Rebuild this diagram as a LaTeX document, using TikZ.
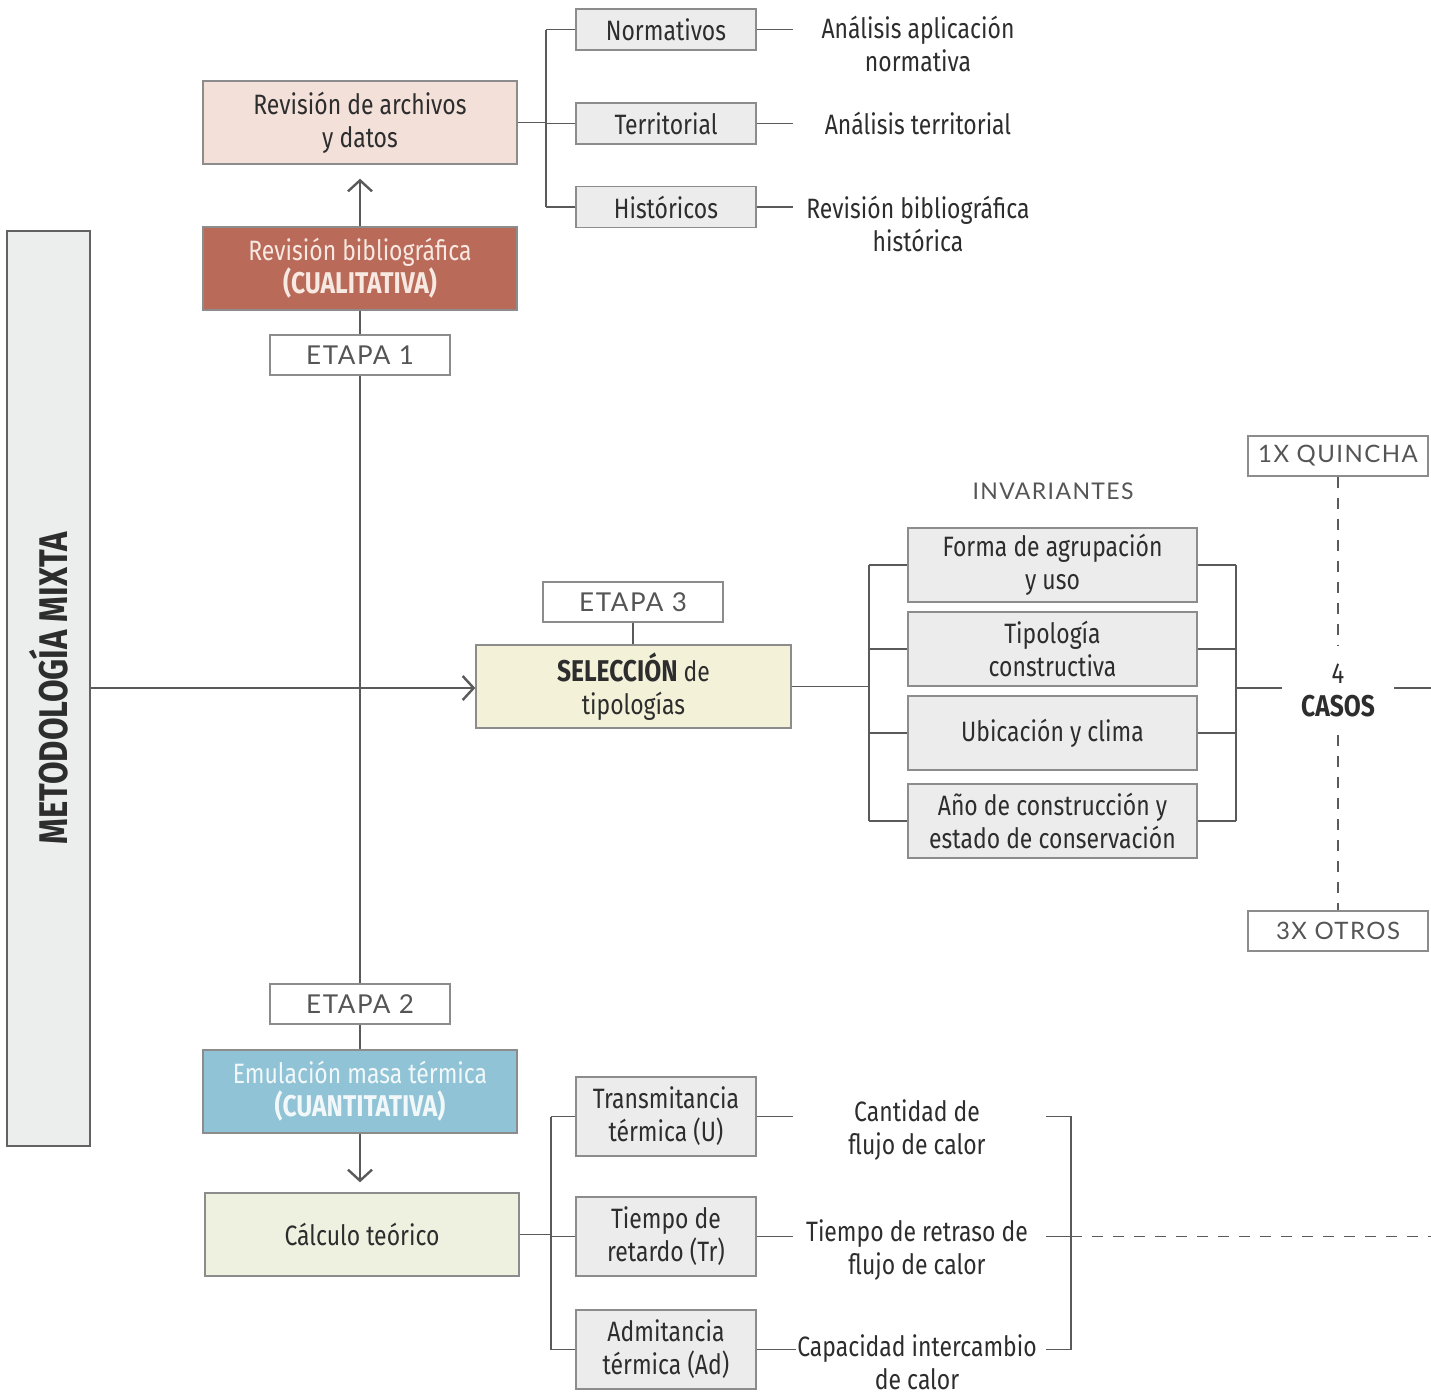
\documentclass[tikz,border=0pt]{standalone}
\usepackage{fontspec}
\setmainfont{Fira Sans}[FakeStretch=0.82]
\newfontfamily\digfont{Fira Sans}[FakeStretch=0.82, Numbers={Lining,Proportional}]
\newfontfamily\etfont{Lato}[LetterSpace=6]
\usetikzlibrary{arrows.meta,calc}
\definecolor{lc}{HTML}{5A5A5A}
\definecolor{bc}{HTML}{8C8C8C}
\definecolor{gbox}{HTML}{ECECEC}
\definecolor{bigfill}{HTML}{ECEEED}
\definecolor{bigdraw}{HTML}{626262}
\definecolor{tc}{HTML}{2D2D2D}
\definecolor{cualfill}{HTML}{B96A59}
\definecolor{cualtext}{HTML}{F7E9E1}
\definecolor{archfill}{HTML}{F2E0D9}
\definecolor{emulfill}{HTML}{8FC3D5}
\definecolor{emultext}{HTML}{F2F8FA}
\definecolor{selfill}{HTML}{F3F2D9}
\definecolor{calcfill}{HTML}{EEF1E0}
\definecolor{etc}{HTML}{555555}
\begin{document}
\begin{tikzpicture}[x=1pt,y=-1pt,
  ln/.style={draw=lc, line width=1.3pt},
  dsh/.style={draw=lc, line width=1.1pt, dash pattern=on 11pt off 10pt},
  arr/.style={ln, -{Straight Barb[length=11pt,width=24pt,line width=2.4pt]}},
  bx/.style={draw=bc, line width=1.4pt, fill=gbox, align=center, inner sep=0pt,
    text=tc, font=\fontsize{28}{33}\selectfont},
  wide/.style={minimum width=314pt, minimum height=83pt},
  small/.style={minimum width=180pt, minimum height=41pt},
  mid/.style={minimum width=180pt, minimum height=79pt},
  inv/.style={minimum width=289pt, minimum height=74pt},
  etapa/.style={draw=bc, line width=1.4pt, fill=white, minimum width=180pt,
    minimum height=40pt, inner sep=0pt, text=etc, font=\etfont\fontsize{26}{30}\selectfont},
  txt/.style={align=center, text=tc, inner sep=0pt, font=\fontsize{28}{33}\selectfont}
]
\useasboundingbox (0,0) rectangle (1431,1395);

% left big box
\node[draw=bigdraw, line width=2pt, fill=bigfill, minimum width=83pt, minimum height=915pt, inner sep=0pt] (meto) at (48.5,688.5) {};
\node[rotate=90, text=tc, font=\bfseries\fontsize{40}{44}\selectfont, inner sep=0pt] (metolbl) at (meto.center) {METODOLOGÍA MIXTA};

% stage 1
\node[bx, wide, fill=cualfill, text=cualtext] (cual) at (360,268.5) {Revisión bibliográfica\\\textbf{\fontsize{30}{33}\selectfont(CUALITATIVA)}};
\node[bx, wide, fill=archfill] (arch) at (360,122.5) {Revisión de archivos\\y datos};
\node[bx, small] (norm) at (666,29.5) {Normativos};
\node[bx, small] (terr) at (666,123.5) {Territorial};
\node[bx, small] (hist) at (666,207) {Históricos};
\node[etapa] (et1) at (360,355) {ETAPA 1};

\node[txt] (t1) at (918,44) {Análisis aplicación\\normativa};
\node[txt] (t2) at (918,123) {Análisis territorial};
\node[txt] (t3) at (918,224) {Revisión bibliográfica\\histórica};

\draw[arr] (cual.north) -- ($(arch.south)+(0,14)$);
\coordinate (ab) at (546,123.5);
\draw[ln] (arch.east) -- (arch.east -| ab);
\draw[ln] (ab |- norm.west) -- (ab |- hist.west);
\draw[ln] (ab |- norm.west) -- (norm.west);
\draw[ln] (ab |- terr.west) -- (terr.west);
\draw[ln] (ab |- hist.west) -- (hist.west);
\coordinate (e1) at (793,29.5);
\coordinate (e2) at (793,123.5);
\coordinate (e3) at (793,207);
\draw[ln] (norm.east) -- (e1);
\draw[ln] (terr.east) -- (e2);
\draw[ln] (hist.east) -- (e3);

% stage 3
\node[etapa] (et3) at (633,602) {ETAPA 3};
\node[bx, wide, minimum width=315pt, fill=selfill] (selec) at (633.5,686.5) {\textbf{\fontsize{30}{33}\selectfont SELECCIÓN} de\\tipologías};
\draw[ln] (et3.south) -- (et3.south |- selec.north);

\node[text=etc, inner sep=0pt, font=\etfont\fontsize{23}{28}\selectfont] (invt) at (1053,491) {INVARIANTES};
\node[bx, inv] (i1) at (1052.5,565) {Forma de agrupación\\y uso};
\node[bx, inv] (i2) at (1052.5,649) {Tipología\\constructiva};
\node[bx, inv] (i3) at (1052.5,733) {Ubicación y clima};
\node[bx, inv] (i4) at (1052.5,821) {Año de construcción y\\estado de conservación};

\coordinate (bl) at (869,688);
\draw[ln] (selec.east) -- (selec.east -| bl);
\draw[ln] (bl |- i1.west) -- (bl |- i4.west);
\foreach \n in {i1,i2,i3,i4} \draw[ln] (bl |- \n.west) -- (\n.west);

\node[txt, minimum width=112pt, minimum height=90pt] (casos) at (1338,690) {{\digfont\fontsize{29}{33}\selectfont 4}\\\textbf{\fontsize{30}{33}\selectfont CASOS}};
\coordinate (br) at (1236,688);
\foreach \n in {i1,i2,i3,i4} \draw[ln] (\n.east) -- (\n.east -| br);
\draw[ln] (br |- i1.east) -- (br |- i4.east);
\draw[ln] (br) -- (br -| casos.west);
\coordinate (rend) at (1431,688);
\draw[ln] (rend -| casos.east) -- (rend);

\node[etapa, font=\etfont\fontsize{24}{30}\selectfont] (quin) at (1338,456) {1X QUINCHA};
\node[etapa, font=\etfont\fontsize{24}{30}\selectfont] (otros) at (1338,931) {3X OTROS};
\draw[dsh] (quin.south) -- (casos.north);
\draw[dsh] (casos.south) -- (otros.north);

% main horizontal
\draw[arr] (meto.east |- bl) -- (selec.west |- bl);

% stage 2
\node[etapa] (et2) at (360,1004) {ETAPA 2};
\node[bx, wide, fill=emulfill, text=emultext] (emul) at (360,1091.5) {Emulación masa térmica\\\textbf{\fontsize{30}{33}\selectfont(CUANTITATIVA)}};
\node[bx, wide, fill=calcfill] (calc) at (362,1234.5) {Cálculo teórico};
\draw[arr] (emul.south) -- ($(calc.north)+(-2,-10)$);

% vertical main line
\draw[ln] (cual.south) -- (et1.north);
\draw[ln] (et1.south) -- (et2.north);
\draw[ln] (et2.south) -- (emul.north);

\node[bx, mid] (tra) at (666,1116.5) {Transmitancia\\térmica (U)};
\node[bx, mid] (tie) at (666,1236.5) {Tiempo de\\retardo (Tr)};
\node[bx, mid] (adm) at (666,1349.5) {Admitancia\\térmica (Ad)};
\coordinate (cl) at (551,1236);
\draw[ln] (calc.east) -- (calc.east -| cl);
\draw[ln] (cl |- tra.west) -- (cl |- adm.west);
\foreach \n in {tra,tie,adm} \draw[ln] (cl |- \n.west) -- (\n.west);

\node[txt] (c1) at (917,1130) {Cantidad de\\flujo de calor};
\node[txt] (c2) at (917,1250) {Tiempo de retraso de\\flujo de calor};
\node[txt] (c3) at (917,1362) {Capacidad intercambio\\de calor};
\coordinate (f1) at (793,1116.5);
\coordinate (f2) at (793,1236.5);
\coordinate (f3) at (796,1349.5);
\draw[ln] (tra.east) -- (f1);
\draw[ln] (tie.east) -- (f2);
\draw[ln] (adm.east) -- (f3);

\coordinate (g1) at (1046,1116.5);
\coordinate (g2) at (1046,1236.5);
\coordinate (g3) at (1046,1349.5);
\coordinate (rb) at (1071,1236.5);
\draw[ln] (g1) -- (g1 -| rb) -- (g3 -| rb) -- (g3);
\draw[ln] (g2) -- (rb);
\coordinate (dend) at (1431,1236.5);
\draw[dsh] (rb) -- (dend);
\end{tikzpicture}
\end{document}
